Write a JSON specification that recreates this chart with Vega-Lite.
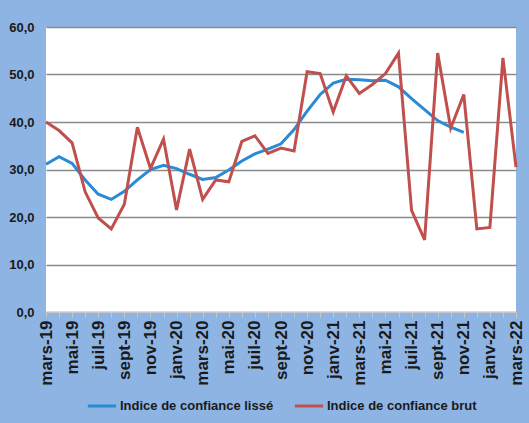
{
  "$schema": "https://vega.github.io/schema/vega-lite/v6.json",
  "width": 470,
  "height": 285,
  "autosize": {"type": "none"},
  "padding": {"left": 46, "top": 27, "right": 13, "bottom": 111},
  "background": "#8EB4E3",
  "config": {
    "font": "Liberation Sans",
    "view": {"fill": "white", "stroke": null}
  },
  "data": {
    "values": [
      {"mois": "mars-19", "serie": "Indice de confiance lissé", "valeur": 31.1},
      {"mois": "avr-19", "serie": "Indice de confiance lissé", "valeur": 32.7},
      {"mois": "mai-19", "serie": "Indice de confiance lissé", "valeur": 31.3},
      {"mois": "juin-19", "serie": "Indice de confiance lissé", "valeur": 27.8},
      {"mois": "juil-19", "serie": "Indice de confiance lissé", "valeur": 24.8},
      {"mois": "août-19", "serie": "Indice de confiance lissé", "valeur": 23.7},
      {"mois": "sept-19", "serie": "Indice de confiance lissé", "valeur": 25.4},
      {"mois": "oct-19", "serie": "Indice de confiance lissé", "valeur": 27.8},
      {"mois": "nov-19", "serie": "Indice de confiance lissé", "valeur": 30.0},
      {"mois": "déc-19", "serie": "Indice de confiance lissé", "valeur": 30.9},
      {"mois": "janv-20", "serie": "Indice de confiance lissé", "valeur": 30.2},
      {"mois": "févr-20", "serie": "Indice de confiance lissé", "valeur": 29.0},
      {"mois": "mars-20", "serie": "Indice de confiance lissé", "valeur": 27.9},
      {"mois": "avr-20", "serie": "Indice de confiance lissé", "valeur": 28.3},
      {"mois": "mai-20", "serie": "Indice de confiance lissé", "valeur": 29.9},
      {"mois": "juin-20", "serie": "Indice de confiance lissé", "valeur": 31.8},
      {"mois": "juil-20", "serie": "Indice de confiance lissé", "valeur": 33.3},
      {"mois": "août-20", "serie": "Indice de confiance lissé", "valeur": 34.3},
      {"mois": "sept-20", "serie": "Indice de confiance lissé", "valeur": 35.4},
      {"mois": "oct-20", "serie": "Indice de confiance lissé", "valeur": 38.4},
      {"mois": "nov-20", "serie": "Indice de confiance lissé", "valeur": 42.3},
      {"mois": "déc-20", "serie": "Indice de confiance lissé", "valeur": 45.8},
      {"mois": "janv-21", "serie": "Indice de confiance lissé", "valeur": 48.2},
      {"mois": "févr-21", "serie": "Indice de confiance lissé", "valeur": 49.0},
      {"mois": "mars-21", "serie": "Indice de confiance lissé", "valeur": 48.9},
      {"mois": "avr-21", "serie": "Indice de confiance lissé", "valeur": 48.7},
      {"mois": "mai-21", "serie": "Indice de confiance lissé", "valeur": 48.8},
      {"mois": "juin-21", "serie": "Indice de confiance lissé", "valeur": 47.4},
      {"mois": "juil-21", "serie": "Indice de confiance lissé", "valeur": 44.9},
      {"mois": "août-21", "serie": "Indice de confiance lissé", "valeur": 42.6},
      {"mois": "sept-21", "serie": "Indice de confiance lissé", "valeur": 40.3},
      {"mois": "oct-21", "serie": "Indice de confiance lissé", "valeur": 38.9},
      {"mois": "nov-21", "serie": "Indice de confiance lissé", "valeur": 37.8},
      {"mois": "mars-19", "serie": "Indice de confiance brut", "valeur": 40.0},
      {"mois": "avr-19", "serie": "Indice de confiance brut", "valeur": 38.2},
      {"mois": "mai-19", "serie": "Indice de confiance brut", "valeur": 35.6},
      {"mois": "juin-19", "serie": "Indice de confiance brut", "valeur": 25.3},
      {"mois": "juil-19", "serie": "Indice de confiance brut", "valeur": 19.8},
      {"mois": "août-19", "serie": "Indice de confiance brut", "valeur": 17.5},
      {"mois": "sept-19", "serie": "Indice de confiance brut", "valeur": 22.7},
      {"mois": "oct-19", "serie": "Indice de confiance brut", "valeur": 38.9},
      {"mois": "nov-19", "serie": "Indice de confiance brut", "valeur": 30.2},
      {"mois": "déc-19", "serie": "Indice de confiance brut", "valeur": 36.4},
      {"mois": "janv-20", "serie": "Indice de confiance brut", "valeur": 21.5},
      {"mois": "févr-20", "serie": "Indice de confiance brut", "valeur": 34.3},
      {"mois": "mars-20", "serie": "Indice de confiance brut", "valeur": 23.7},
      {"mois": "avr-20", "serie": "Indice de confiance brut", "valeur": 27.8},
      {"mois": "mai-20", "serie": "Indice de confiance brut", "valeur": 27.4},
      {"mois": "juin-20", "serie": "Indice de confiance brut", "valeur": 35.9},
      {"mois": "juil-20", "serie": "Indice de confiance brut", "valeur": 37.1},
      {"mois": "août-20", "serie": "Indice de confiance brut", "valeur": 33.4},
      {"mois": "sept-20", "serie": "Indice de confiance brut", "valeur": 34.5},
      {"mois": "oct-20", "serie": "Indice de confiance brut", "valeur": 33.9},
      {"mois": "nov-20", "serie": "Indice de confiance brut", "valeur": 50.6},
      {"mois": "déc-20", "serie": "Indice de confiance brut", "valeur": 50.2},
      {"mois": "janv-21", "serie": "Indice de confiance brut", "valeur": 42.1},
      {"mois": "févr-21", "serie": "Indice de confiance brut", "valeur": 49.7},
      {"mois": "mars-21", "serie": "Indice de confiance brut", "valeur": 46.0},
      {"mois": "avr-21", "serie": "Indice de confiance brut", "valeur": 47.9},
      {"mois": "mai-21", "serie": "Indice de confiance brut", "valeur": 50.2},
      {"mois": "juin-21", "serie": "Indice de confiance brut", "valeur": 54.5},
      {"mois": "juil-21", "serie": "Indice de confiance brut", "valeur": 21.4},
      {"mois": "août-21", "serie": "Indice de confiance brut", "valeur": 15.2},
      {"mois": "sept-21", "serie": "Indice de confiance brut", "valeur": 54.5},
      {"mois": "oct-21", "serie": "Indice de confiance brut", "valeur": 38.7},
      {"mois": "nov-21", "serie": "Indice de confiance brut", "valeur": 45.8},
      {"mois": "déc-21", "serie": "Indice de confiance brut", "valeur": 17.5},
      {"mois": "janv-22", "serie": "Indice de confiance brut", "valeur": 17.8},
      {"mois": "févr-22", "serie": "Indice de confiance brut", "valeur": 53.5},
      {"mois": "mars-22", "serie": "Indice de confiance brut", "valeur": 30.5}
    ]
  },
  "mark": {"type": "line", "strokeWidth": 3, "strokeJoin": "miter"},
  "encoding": {
    "x": {
      "field": "mois",
      "type": "nominal",
      "sort": null,
      "scale": {"type": "point", "padding": 0},
      "axis": {
        "title": null,
        "labelAngle": -90,
        "labelAlign": "right",
        "labelBaseline": "middle",
        "labelFontSize": 17,
        "labelFontWeight": "bold",
        "labelColor": "#1a1a1a",
        "labelPadding": 3,
        "tickSize": 5,
        "tickColor": "#c8c8c8",
        "domainColor": "#c8c8c8",
        "domainWidth": 1.5,
        "labelExpr": "indexof(['mars','mai','juil','sept','nov','janv'], split(datum.value, '-')[0]) >= 0 ? datum.value : ''",
        "grid": false
      }
    },
    "y": {
      "field": "valeur",
      "type": "quantitative",
      "scale": {"domain": [0, 60], "nice": false},
      "axis": {
        "title": null,
        "values": [0, 10, 20, 30, 40, 50, 60],
        "format": ".1f",
        "labelExpr": "replace(datum.label, '.', ',')",
        "labelFontSize": 13,
        "labelFontWeight": "bold",
        "labelColor": "#1a1a1a",
        "labelPadding": 12,
        "ticks": false,
        "domain": false,
        "grid": true,
        "gridColor": "#8a8a8a",
        "gridWidth": 1.5
      }
    },
    "color": {
      "field": "serie",
      "type": "nominal",
      "scale": {
        "domain": ["Indice de confiance lissé", "Indice de confiance brut"],
        "range": ["#2A8AD6", "#C0504D"]
      },
      "legend": {
        "title": null,
        "orient": "none",
        "legendX": 40,
        "legendY": 363,
        "direction": "horizontal",
        "columns": 2,
        "columnPadding": 14,
        "symbolType": "stroke",
        "symbolStrokeWidth": 3,
        "symbolSize": 800,
        "labelFontSize": 13,
        "labelFontWeight": "bold",
        "labelColor": "#1a1a1a",
        "labelOffset": 2,
        "labelLimit": 300
      }
    }
  }
}
